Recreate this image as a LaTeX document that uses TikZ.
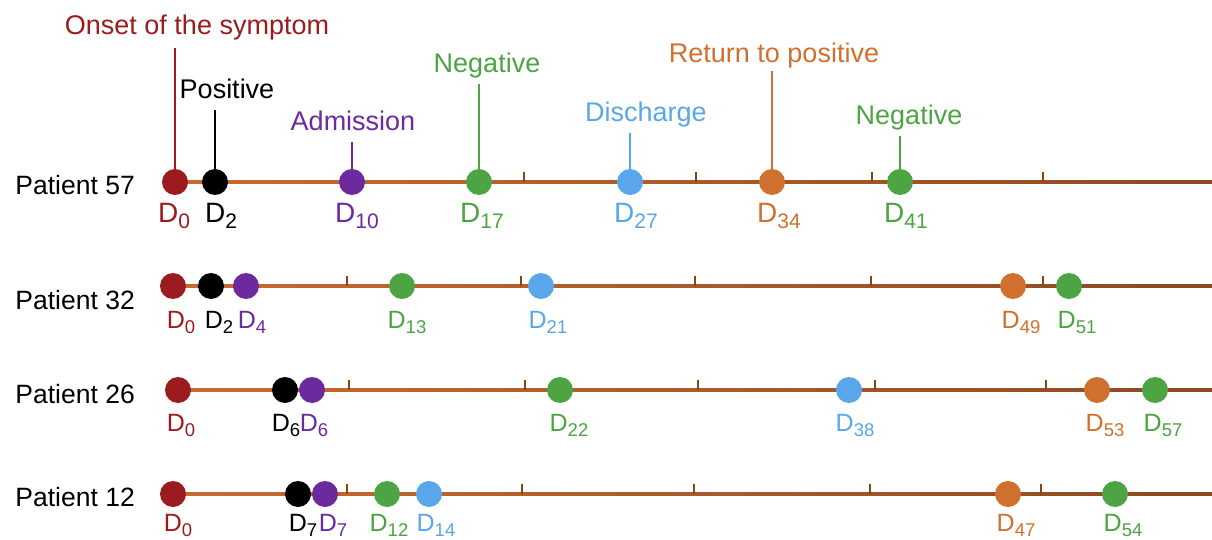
\documentclass[tikz,border=0pt]{standalone}
\usepackage{fontspec}
\setmainfont{Liberation Sans}
\usetikzlibrary{calc}

\definecolor{onsetc}{HTML}{9B1B1E}
\definecolor{posc}{HTML}{000000}
\definecolor{admc}{HTML}{6C2A9C}
\definecolor{negc}{HTML}{4CA443}
\definecolor{disc}{HTML}{5AA6EA}
\definecolor{retc}{HTML}{D0702E}
\definecolor{lineA}{HTML}{C96B30}
\definecolor{lineB}{HTML}{8A4A22}
\definecolor{tickc}{HTML}{8B4513}

% day label: D with a lowered index (D size, index size, drop, index)
\newcommand\Dsub[4]{{\fontsize{#1}{#1}\selectfont D}\raisebox{-#3pt}{\fontsize{#2}{#2}\selectfont #4}}
\newcommand\Dbig[1]{\Dsub{28}{21}{6}{#1}}
\newcommand\Dsmall[1]{\Dsub{25}{18.5}{5.5}{#1}}

% one event on a timeline: name, colour, x, y, label text, label x, label drop
\newcommand\tlevent[7]{%
  \node[evdot=#2] (#1) at (#3,#4) {};
  \node[dlab=#2] (#1-t) at (#6,#4+#7) {#5};
}

% timeline axis between two named coordinates
\newcommand\axis[2]{%
  \shade[left color=lineA, right color=lineB] ($(#1)+(0,-1.6)$) rectangle ($(#2)+(0,1.6)$);
}

\tikzset{
  evdot/.style={circle, fill=#1, minimum size=26pt, inner sep=0pt},
  dlab/.style={anchor=north, inner sep=0pt, text=#1},
  evlab/.style={anchor=base, inner sep=0pt, text=#1, font=\fontsize{27}{30}\selectfont},
  stem/.style={draw=#1, line width=2.8pt},
  tickmark/.style={draw=tickc, line width=2pt},
  ptlab/.style={anchor=base east, inner sep=0pt, font=\fontsize{26.5}{30}\selectfont}
}

\begin{document}
\begin{tikzpicture}[x=1pt, y=-1pt]
\useasboundingbox (0,0) rectangle (1212,540);

% ---------- Patient 57 ----------
\coordinate (a57) at (175,182);
\coordinate (b57) at (1212,182);
\axis{a57}{b57}
\foreach \x in {524,696,872,1043} \draw[tickmark] (\x,182) -- ++(0,-10);
\node[ptlab] (pt57) at (135,195) {Patient 57};

\node[evlab=onsetc] (l-onset) at (197,35) {Onset of the symptom};
\node[evlab=posc] (l-pos) at (227,99) {Positive};
\node[evlab=admc] (l-adm) at (353,131) {Admission};
\node[evlab=negc] (l-neg1) at (487,73) {Negative};
\node[evlab=disc] (l-dis) at (646,122) {Discharge};
\node[evlab=retc] (l-ret) at (774,63) {Return to positive};
\node[evlab=negc] (l-neg2) at (909,125) {Negative};

\tlevent{r1a}{onsetc}{175}{182}{\Dbig{0}}{174}{21}
\tlevent{r1b}{posc}{215}{182}{\Dbig{2}}{221}{21}
\tlevent{r1c}{admc}{352}{182}{\Dbig{10}}{357}{21}
\tlevent{r1d}{negc}{479}{182}{\Dbig{17}}{482}{21}
\tlevent{r1e}{disc}{630}{182}{\Dbig{27}}{636}{21}
\tlevent{r1f}{retc}{772}{182}{\Dbig{34}}{779}{21}
\tlevent{r1g}{negc}{900}{182}{\Dbig{41}}{906}{21}

\draw[stem=onsetc] (r1a.north) -- ($(r1a |- l-onset.base)+(0,13)$);
\draw[stem=posc] (r1b.north) -- ($(r1b |- l-pos.base)+(0,11)$);
\draw[stem=admc] (r1c.north) -- ($(r1c |- l-adm.base)+(0,11)$);
\draw[stem=negc] (r1d.north) -- ($(r1d |- l-neg1.base)+(0,11)$);
\draw[stem=disc] (r1e.north) -- ($(r1e |- l-dis.base)+(0,11)$);
\draw[stem=retc] (r1f.north) -- ($(r1f |- l-ret.base)+(0,8)$);
\draw[stem=negc] (r1g.north) -- ($(r1g |- l-neg2.base)+(0,11)$);

% ---------- Patient 32 ----------
\coordinate (a32) at (173,286);
\coordinate (b32) at (1212,286);
\axis{a32}{b32}
\foreach \x in {347,521,695,871,1043} \draw[tickmark] (\x,286) -- ++(0,-10);
\node[ptlab] (pt32) at (135,309) {Patient 32};

\tlevent{r2a}{onsetc}{173}{286}{\Dsmall{0}}{181}{25}
\tlevent{r2b}{posc}{211}{286}{\Dsmall{2}}{219}{25}
\tlevent{r2c}{admc}{246}{286}{\Dsmall{4}}{252}{25}
\tlevent{r2d}{negc}{402}{286}{\Dsmall{13}}{407}{25}
\tlevent{r2e}{disc}{541}{286}{\Dsmall{21}}{548}{25}
\tlevent{r2f}{retc}{1013}{286}{\Dsmall{49}}{1021}{25}
\tlevent{r2g}{negc}{1069}{286}{\Dsmall{51}}{1077}{25}

% ---------- Patient 26 ----------
\coordinate (a26) at (178,390);
\coordinate (b26) at (1212,390);
\axis{a26}{b26}
\foreach \x in {349,525,698,875,1046} \draw[tickmark] (\x,390) -- ++(0,-10);
\node[ptlab] (pt26) at (135,403) {Patient 26};

\tlevent{r3a}{onsetc}{178}{390}{\Dsmall{0}}{181}{24}
\tlevent{r3b}{posc}{285}{390}{\Dsmall{6}}{286}{24}
\tlevent{r3c}{admc}{312}{390}{\Dsmall{6}}{314}{24}
\tlevent{r3d}{negc}{560}{390}{\Dsmall{22}}{569}{24}
\tlevent{r3e}{disc}{849}{390}{\Dsmall{38}}{855}{24}
\tlevent{r3f}{retc}{1097}{390}{\Dsmall{53}}{1105}{24}
\tlevent{r3g}{negc}{1155}{390}{\Dsmall{57}}{1163}{24}

% ---------- Patient 12 ----------
\coordinate (a12) at (173,494);
\coordinate (b12) at (1212,494);
\axis{a12}{b12}
\foreach \x in {347,522,694,870,1041} \draw[tickmark] (\x,494) -- ++(0,-10);
\node[ptlab] (pt12) at (135,506) {Patient 12};

\tlevent{r4a}{onsetc}{173}{494}{\Dsmall{0}}{178}{20}
\tlevent{r4b}{posc}{298}{494}{\Dsmall{7}}{303}{20}
\tlevent{r4c}{admc}{325}{494}{\Dsmall{7}}{333}{20}
\tlevent{r4d}{negc}{387}{494}{\Dsmall{12}}{389}{20}
\tlevent{r4e}{disc}{429}{494}{\Dsmall{14}}{436}{20}
\tlevent{r4f}{retc}{1008}{494}{\Dsmall{47}}{1016}{20}
\tlevent{r4g}{negc}{1115}{494}{\Dsmall{54}}{1123}{20}

\end{tikzpicture}
\end{document}
